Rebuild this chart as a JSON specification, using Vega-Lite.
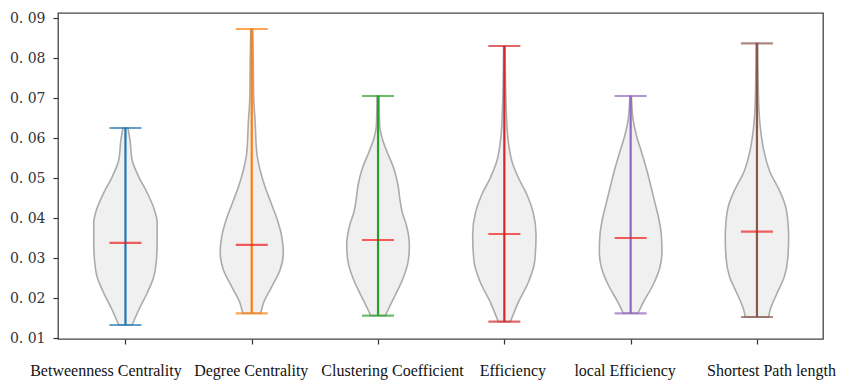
{
  "$schema": "https://vega.github.io/schema/vega-lite/v6.json",
  "width": 765,
  "height": 326,
  "autosize": {"type": "none"},
  "padding": {"left": 58, "top": 13, "right": 25, "bottom": 42},
  "background": "white",
  "config": {
    "view": {"stroke": "#444444", "strokeWidth": 1.3},
    "axis": {"grid": false, "domain": false, "tickColor": "#333333", "tickSize": 5, "tickWidth": 1.2}
  },
  "datasets": {
    "violins": [
      {"cat": "Betweenness Centrality", "v": 0.01325, "l": 0.947, "r": 1.053},
      {"cat": "Betweenness Centrality", "v": 0.017, "l": 0.895, "r": 1.105},
      {"cat": "Betweenness Centrality", "v": 0.02125, "l": 0.828, "r": 1.172},
      {"cat": "Betweenness Centrality", "v": 0.02525, "l": 0.776, "r": 1.224},
      {"cat": "Betweenness Centrality", "v": 0.0295, "l": 0.755, "r": 1.245},
      {"cat": "Betweenness Centrality", "v": 0.0338, "l": 0.749, "r": 1.251},
      {"cat": "Betweenness Centrality", "v": 0.0388, "l": 0.749, "r": 1.251},
      {"cat": "Betweenness Centrality", "v": 0.042, "l": 0.77, "r": 1.23},
      {"cat": "Betweenness Centrality", "v": 0.0463, "l": 0.828, "r": 1.172},
      {"cat": "Betweenness Centrality", "v": 0.0503, "l": 0.895, "r": 1.105},
      {"cat": "Betweenness Centrality", "v": 0.0545, "l": 0.947, "r": 1.053},
      {"cat": "Betweenness Centrality", "v": 0.0595, "l": 0.964, "r": 1.036},
      {"cat": "Betweenness Centrality", "v": 0.0625, "l": 0.98, "r": 1.02},

      {"cat": "Degree Centrality", "v": 0.01618, "l": 1.929, "r": 2.071},
      {"cat": "Degree Centrality", "v": 0.01875, "l": 1.907, "r": 2.093},
      {"cat": "Degree Centrality", "v": 0.0228, "l": 1.842, "r": 2.158},
      {"cat": "Degree Centrality", "v": 0.027, "l": 1.776, "r": 2.224},
      {"cat": "Degree Centrality", "v": 0.03125, "l": 1.75, "r": 2.25},
      {"cat": "Degree Centrality", "v": 0.0353, "l": 1.762, "r": 2.238},
      {"cat": "Degree Centrality", "v": 0.0395, "l": 1.797, "r": 2.203},
      {"cat": "Degree Centrality", "v": 0.04375, "l": 1.847, "r": 2.153},
      {"cat": "Degree Centrality", "v": 0.0478, "l": 1.895, "r": 2.105},
      {"cat": "Degree Centrality", "v": 0.052, "l": 1.934, "r": 2.066},
      {"cat": "Degree Centrality", "v": 0.05625, "l": 1.96, "r": 2.04},
      {"cat": "Degree Centrality", "v": 0.0645, "l": 1.974, "r": 2.026},
      {"cat": "Degree Centrality", "v": 0.0695, "l": 1.984, "r": 2.016},
      {"cat": "Degree Centrality", "v": 0.0795, "l": 1.988, "r": 2.012},
      {"cat": "Degree Centrality", "v": 0.08725, "l": 1.992, "r": 2.008},

      {"cat": "Clustering Coefficient", "v": 0.01558, "l": 2.942, "r": 3.058},
      {"cat": "Clustering Coefficient", "v": 0.01743, "l": 2.915, "r": 3.085},
      {"cat": "Clustering Coefficient", "v": 0.02075, "l": 2.863, "r": 3.137},
      {"cat": "Clustering Coefficient", "v": 0.02493, "l": 2.802, "r": 3.198},
      {"cat": "Clustering Coefficient", "v": 0.02908, "l": 2.762, "r": 3.238},
      {"cat": "Clustering Coefficient", "v": 0.03325, "l": 2.752, "r": 3.248},
      {"cat": "Clustering Coefficient", "v": 0.03825, "l": 2.776, "r": 3.224},
      {"cat": "Clustering Coefficient", "v": 0.04158, "l": 2.81, "r": 3.19},
      {"cat": "Clustering Coefficient", "v": 0.04493, "l": 2.828, "r": 3.172},
      {"cat": "Clustering Coefficient", "v": 0.04825, "l": 2.842, "r": 3.158},
      {"cat": "Clustering Coefficient", "v": 0.05243, "l": 2.876, "r": 3.124},
      {"cat": "Clustering Coefficient", "v": 0.05658, "l": 2.929, "r": 3.071},
      {"cat": "Clustering Coefficient", "v": 0.05993, "l": 2.968, "r": 3.032},
      {"cat": "Clustering Coefficient", "v": 0.06325, "l": 2.987, "r": 3.013},
      {"cat": "Clustering Coefficient", "v": 0.0705, "l": 2.992, "r": 3.008},

      {"cat": "Efficiency", "v": 0.01408, "l": 3.952, "r": 4.048},
      {"cat": "Efficiency", "v": 0.01575, "l": 3.931, "r": 4.069},
      {"cat": "Efficiency", "v": 0.01908, "l": 3.887, "r": 4.113},
      {"cat": "Efficiency", "v": 0.02408, "l": 3.808, "r": 4.192},
      {"cat": "Efficiency", "v": 0.02908, "l": 3.76, "r": 4.24},
      {"cat": "Efficiency", "v": 0.03575, "l": 3.749, "r": 4.251},
      {"cat": "Efficiency", "v": 0.04158, "l": 3.773, "r": 4.227},
      {"cat": "Efficiency", "v": 0.04575, "l": 3.82, "r": 4.18},
      {"cat": "Efficiency", "v": 0.04993, "l": 3.887, "r": 4.113},
      {"cat": "Efficiency", "v": 0.05408, "l": 3.939, "r": 4.061},
      {"cat": "Efficiency", "v": 0.06075, "l": 3.974, "r": 4.026},
      {"cat": "Efficiency", "v": 0.06908, "l": 3.987, "r": 4.013},
      {"cat": "Efficiency", "v": 0.083, "l": 3.994, "r": 4.006},

      {"cat": "local Efficiency", "v": 0.01618, "l": 4.942, "r": 5.058},
      {"cat": "local Efficiency", "v": 0.01908, "l": 4.897, "r": 5.103},
      {"cat": "local Efficiency", "v": 0.02325, "l": 4.823, "r": 5.177},
      {"cat": "local Efficiency", "v": 0.02743, "l": 4.77, "r": 5.23},
      {"cat": "local Efficiency", "v": 0.03158, "l": 4.752, "r": 5.248},
      {"cat": "local Efficiency", "v": 0.03575, "l": 4.757, "r": 5.243},
      {"cat": "local Efficiency", "v": 0.03993, "l": 4.778, "r": 5.222},
      {"cat": "local Efficiency", "v": 0.04408, "l": 4.81, "r": 5.19},
      {"cat": "local Efficiency", "v": 0.04825, "l": 4.842, "r": 5.158},
      {"cat": "local Efficiency", "v": 0.05243, "l": 4.876, "r": 5.124},
      {"cat": "local Efficiency", "v": 0.05658, "l": 4.915, "r": 5.085},
      {"cat": "local Efficiency", "v": 0.06075, "l": 4.955, "r": 5.045},
      {"cat": "local Efficiency", "v": 0.06493, "l": 4.982, "r": 5.018},
      {"cat": "local Efficiency", "v": 0.0705, "l": 4.994, "r": 5.006},

      {"cat": "Shortest Path length", "v": 0.01525, "l": 5.908, "r": 6.092},
      {"cat": "Shortest Path length", "v": 0.01705, "l": 5.895, "r": 6.105},
      {"cat": "Shortest Path length", "v": 0.02113, "l": 5.842, "r": 6.158},
      {"cat": "Shortest Path length", "v": 0.02523, "l": 5.784, "r": 6.216},
      {"cat": "Shortest Path length", "v": 0.03013, "l": 5.755, "r": 6.245},
      {"cat": "Shortest Path length", "v": 0.03503, "l": 5.749, "r": 6.251},
      {"cat": "Shortest Path length", "v": 0.03913, "l": 5.755, "r": 6.245},
      {"cat": "Shortest Path length", "v": 0.0432, "l": 5.776, "r": 6.224},
      {"cat": "Shortest Path length", "v": 0.0473, "l": 5.828, "r": 6.172},
      {"cat": "Shortest Path length", "v": 0.05138, "l": 5.895, "r": 6.105},
      {"cat": "Shortest Path length", "v": 0.0571, "l": 5.947, "r": 6.053},
      {"cat": "Shortest Path length", "v": 0.06283, "l": 5.974, "r": 6.026},
      {"cat": "Shortest Path length", "v": 0.06938, "l": 5.987, "r": 6.013},
      {"cat": "Shortest Path length", "v": 0.08368, "l": 5.994, "r": 6.006}
    ],
    "stats": [
      {"cat": "Betweenness Centrality", "pos": 1, "min": 0.01325, "max": 0.0625, "median": 0.0338},
      {"cat": "Degree Centrality", "pos": 2, "min": 0.01618, "max": 0.08725, "median": 0.0333},
      {"cat": "Clustering Coefficient", "pos": 3, "min": 0.01558, "max": 0.0705, "median": 0.0345},
      {"cat": "Efficiency", "pos": 4, "min": 0.01408, "max": 0.083, "median": 0.036},
      {"cat": "local Efficiency", "pos": 5, "min": 0.01618, "max": 0.0705, "median": 0.035},
      {"cat": "Shortest Path length", "pos": 6, "min": 0.01525, "max": 0.08368, "median": 0.0366}
    ]
  },
  "layer": [
    {
      "data": {"name": "violins"},
      "mark": {"type": "area", "orient": "horizontal", "fill": "#f0f0f0", "stroke": "#ababab", "strokeWidth": 1.6, "interpolate": "monotone"},
      "encoding": {
        "y": {"field": "v", "type": "quantitative", "scale": {"domain": [0.00975, 0.09125], "nice": false, "zero": false},
          "axis": {"title": null, "values": [0.01, 0.02, 0.03, 0.04, 0.05, 0.06, 0.07, 0.08, 0.09],
            "labelExpr": "replace(format(datum.value, '.2f'), '.', '. ')",
            "labelFont": "DejaVu Serif", "labelFontSize": 14, "labelColor": "#333333", "labelPadding": 8}},
        "x": {"field": "l", "type": "quantitative", "scale": {"domain": [0.466, 6.523], "nice": false, "zero": false},
          "axis": {"title": null, "values": [1, 2, 3, 4, 5, 6],
            "labelExpr": "['', 'Betweenness Centrality', 'Degree Centrality', 'Clustering Coefficient', 'Efficiency', 'local Efficiency', 'Shortest Path length'][datum.value]",
            "labelFont": "Liberation Serif", "labelFontSize": 16, "labelColor": "#111111", "labelPadding": 18,
            "labelOverlap": false, "labelFlush": false,
            "labelOffset": {"condition": [
              {"test": "datum.value == 1", "value": -20},
              {"test": "datum.value == 3", "value": 14},
              {"test": "datum.value == 4", "value": 8},
              {"test": "datum.value == 5", "value": -6},
              {"test": "datum.value == 6", "value": 14}
            ], "value": -1}}},
        "x2": {"field": "r"},
        "detail": {"field": "cat"}
      }
    },
    {
      "data": {"name": "stats"},
      "mark": {"type": "rule", "strokeWidth": 2.2},
      "encoding": {
        "x": {"field": "pos", "type": "quantitative", "scale": {"domain": [0.466, 6.523], "nice": false, "zero": false}, "axis": {"title": null}},
        "y": {"field": "min", "type": "quantitative", "scale": {"domain": [0.00975, 0.09125], "nice": false, "zero": false}, "axis": {"title": null}},
        "y2": {"field": "max"},
        "color": {"field": "cat", "type": "nominal", "legend": null,
          "scale": {"domain": ["Betweenness Centrality", "Degree Centrality", "Clustering Coefficient", "Efficiency", "local Efficiency", "Shortest Path length"],
            "range": ["#1f77b4", "#ff7f0e", "#2ca02c", "#d62728", "#9467bd", "#8c564b"]}}
      }
    },
    {
      "data": {"name": "stats"},
      "mark": {"type": "tick", "orient": "horizontal", "size": 32, "thickness": 2.2},
      "encoding": {
        "x": {"field": "pos", "type": "quantitative", "scale": {"domain": [0.466, 6.523], "nice": false, "zero": false}, "axis": {"title": null}},
        "y": {"field": "min", "type": "quantitative", "scale": {"domain": [0.00975, 0.09125], "nice": false, "zero": false}, "axis": {"title": null}},
        "color": {"field": "cat", "type": "nominal", "legend": null}
      }
    },
    {
      "data": {"name": "stats"},
      "mark": {"type": "tick", "orient": "horizontal", "size": 32, "thickness": 2.2},
      "encoding": {
        "x": {"field": "pos", "type": "quantitative", "scale": {"domain": [0.466, 6.523], "nice": false, "zero": false}, "axis": {"title": null}},
        "y": {"field": "max", "type": "quantitative", "scale": {"domain": [0.00975, 0.09125], "nice": false, "zero": false}, "axis": {"title": null}},
        "color": {"field": "cat", "type": "nominal", "legend": null}
      }
    },
    {
      "data": {"name": "stats"},
      "mark": {"type": "tick", "orient": "horizontal", "size": 32, "thickness": 2.2, "color": "#ee1c1c"},
      "encoding": {
        "x": {"field": "pos", "type": "quantitative", "scale": {"domain": [0.466, 6.523], "nice": false, "zero": false}, "axis": {"title": null}},
        "y": {"field": "median", "type": "quantitative", "scale": {"domain": [0.00975, 0.09125], "nice": false, "zero": false}, "axis": {"title": null}}
      }
    }
  ]
}
